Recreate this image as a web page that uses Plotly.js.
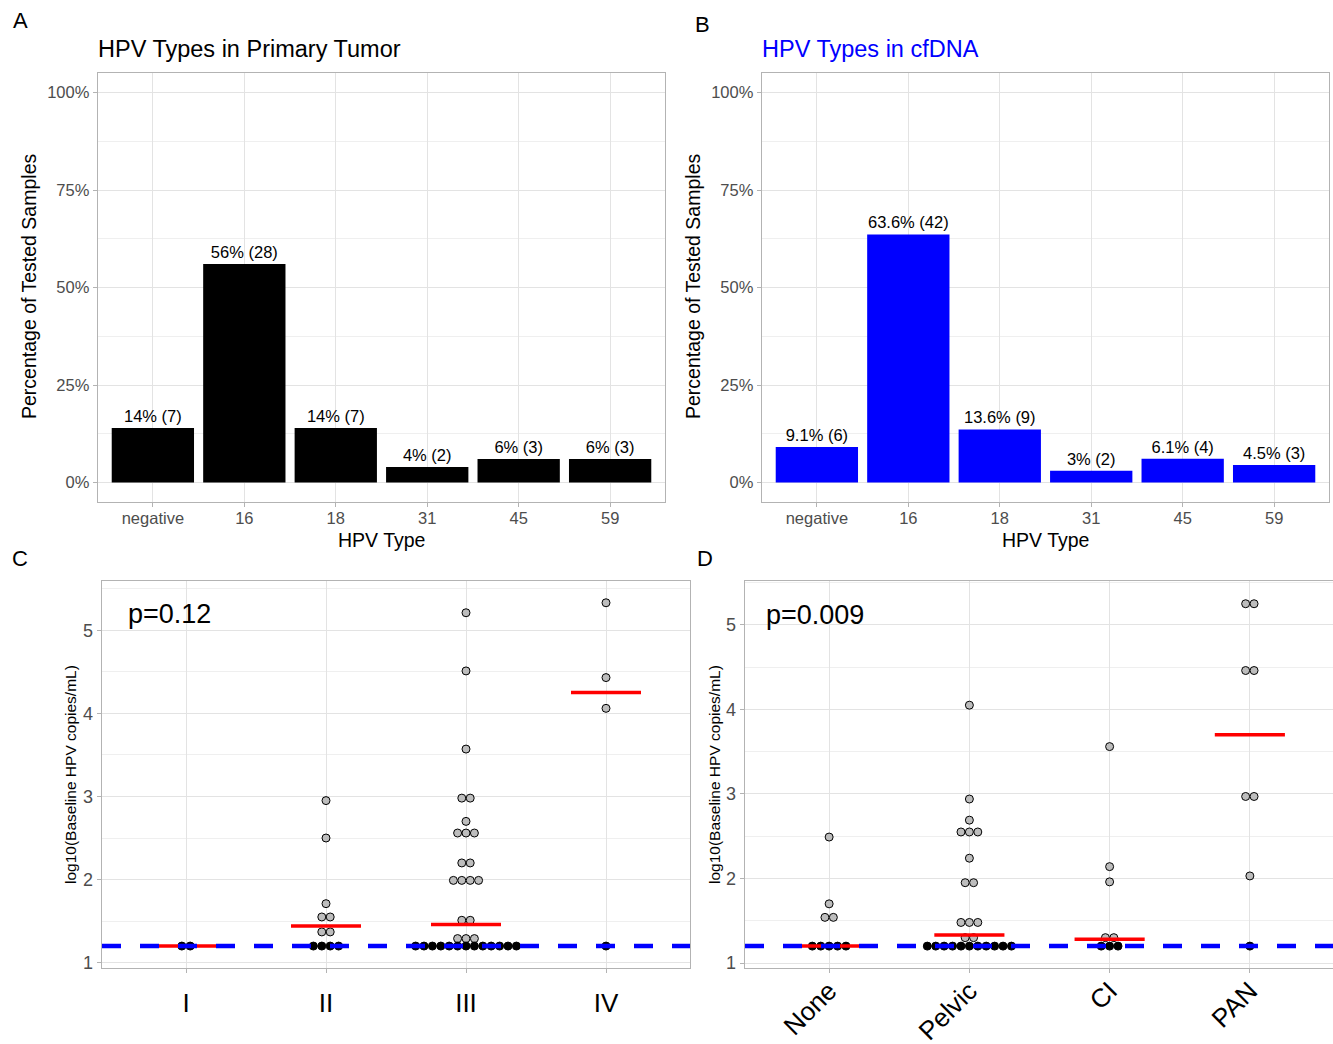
<!DOCTYPE html>
<html><head><meta charset="utf-8">
<script src="https://cdn.plot.ly/plotly-3.0.1.min.js"></script>
<style>html,body{margin:0;padding:0;overflow:hidden;background:#fff}</style>
</head><body><div id="chart" style="width:1340px;height:1044px"></div>
<script>
// ---------- data ----------
const hpvTypes = ['negative', '16', '18', '31', '45', '59'];
const tumorPct = [14, 56, 14, 4, 6, 6];
const tumorN = [7, 28, 7, 2, 3, 3];
const cfdnaPct = [9.1, 63.6, 13.6, 3, 6.1, 4.5];
const cfdnaN = [6, 42, 9, 2, 4, 3];

const lodValue = 1.2;

// log10 baseline HPV copies/mL, one value per patient, by FIGO 2018 stage
const stageCats = ['I', 'II', 'III', 'IV'];
const stageI = [1.2, 1.2];
const stageII = [2.95, 2.50, 1.71, 1.55, 1.55, 1.37, 1.37, 1.2, 1.2, 1.2, 1.2];
const stageIII = [5.21, 4.51, 3.57, 2.98, 2.98, 2.70, 2.56, 2.56, 2.56, 2.20, 2.20,
  1.99, 1.99, 1.99, 1.99, 1.51, 1.51, 1.29, 1.29, 1.29,
  1.2, 1.2, 1.2, 1.2, 1.2, 1.2, 1.2, 1.2, 1.2, 1.2, 1.2, 1.2, 1.2];
const stageIV = [5.33, 4.43, 4.06, 1.2];
const stageMedians = [1.2, 1.44, 1.46, 4.25];
const stagePText = 'p=0.12';

// by highest involved nodal level
const nodalCats = ['None', 'Pelvic', 'CI', 'PAN'];
const nodalNone = [2.49, 1.70, 1.54, 1.54, 1.2, 1.2, 1.2, 1.2, 1.2];
const nodalPelvic = [4.05, 2.94, 2.69, 2.55, 2.55, 2.55, 2.24, 1.95, 1.95, 1.48, 1.48, 1.48, 1.30, 1.30,
  1.2, 1.2, 1.2, 1.2, 1.2, 1.2, 1.2, 1.2, 1.2, 1.2, 1.2];
const nodalCI = [3.56, 2.14, 1.96, 1.30, 1.30, 1.2, 1.2, 1.2];
const nodalPAN = [5.25, 5.25, 4.46, 4.46, 2.97, 2.97, 2.03, 1.2];
const nodalMedians = [1.2, 1.33, 1.28, 3.70];
const nodalPText = 'p=0.009';

// ---------- helpers ----------
const W = 1340, H = 1044;
const fx = x => x / W;
const fy = y => 1 - y / H;
const FONT = 'Liberation Sans, Arial, Helvetica, sans-serif';
const GRID = '#e3e3e3', MINOR = '#efefef', BORDER = '#b3b3b3', TICKC = '#4d4d4d';

function dotTrace(groups, xa, ya) {
  // centred dot plot: identical values in a group sit side by side
  const xs = [], ys = [];
  groups.forEach((vals, gi) => {
    const counts = {};
    vals.forEach(v => { counts[v] = (counts[v] || 0) + 1; });
    const seen = {};
    vals.forEach(v => {
      const n = counts[v];
      const j = seen[v] = (seen[v] === undefined ? 0 : seen[v] + 1);
      xs.push(gi + (j - (n - 1) / 2) * 0.06);
      ys.push(v);
    });
  });
  return {
    type: 'scatter', mode: 'markers', xaxis: xa, yaxis: ya,
    x: xs, y: ys, cliponaxis: false,
    marker: {
      size: 8,
      color: ys.map(v => v <= lodValue ? '#000000' : '#bdbdbd'),
      line: { color: '#000000', width: 1 }
    },
    hoverinfo: 'y', showlegend: false
  };
}

function medianTrace(meds, xa, ya) {
  const x = [], y = [];
  meds.forEach((m, i) => { x.push(i - 0.25, i + 0.25, null); y.push(m, m, null); });
  return { type: 'scatter', mode: 'lines', xaxis: xa, yaxis: ya, x, y,
    line: { color: '#ff0000', width: 3.5 }, hoverinfo: 'skip', showlegend: false };
}

function barTrace(pct, n, color, xa, ya) {
  return {
    type: 'bar', x: hpvTypes, y: pct, xaxis: xa, yaxis: ya, width: 0.9,
    marker: { color: color, line: { width: 0 } },
    text: pct.map((p, i) => p + '% (' + n[i] + ')'),
    textposition: 'outside', constraintext: 'none', cliponaxis: false,
    textfont: { size: 16.5, color: '#000', family: FONT },
    showlegend: false, hoverinfo: 'x+y'
  };
}

const data = [
  barTrace(tumorPct, tumorN, '#000000', 'x', 'y'),
  barTrace(cfdnaPct, cfdnaN, '#0000ff', 'x2', 'y2'),
  dotTrace([stageI, stageII, stageIII, stageIV], 'x3', 'y3'),
  medianTrace(stageMedians, 'x3', 'y3'),
  dotTrace([nodalNone, nodalPelvic, nodalCI, nodalPAN], 'x4', 'y4'),
  medianTrace(nodalMedians, 'x4', 'y4')
];

const common = {
  showline: true, mirror: true, linecolor: BORDER, linewidth: 1.3,
  showgrid: true, gridcolor: GRID, gridwidth: 1, zeroline: false,
  ticks: 'outside', ticklen: 4, tickcolor: BORDER, tickwidth: 1,
  tickfont: { size: 16.5, color: TICKC, family: FONT }
};

const barY = Object.assign({}, common, {
  range: [-5, 105], tick0: 0, dtick: 25, ticksuffix: '%',
  minor: { tick0: 0, dtick: 12.5, showgrid: true, gridcolor: MINOR, gridwidth: 1, ticks: '' }
});
const barX = Object.assign({}, common, { type: 'category', range: [-0.6, 5.6], ticklabelstandoff: -3 });

const dotY = Object.assign({}, common, {
  tick0: 0, dtick: 1, tickfont: { size: 18, color: TICKC, family: FONT },
  minor: { tick0: 0, dtick: 0.5, showgrid: true, gridcolor: MINOR, gridwidth: 1, ticks: '' }
});

const layout = {
  width: W, height: H, margin: { l: 0, r: 0, t: 0, b: 0 },
  paper_bgcolor: '#fff', plot_bgcolor: '#fff',
  font: { family: FONT },
  xaxis: Object.assign({}, barX, { domain: [fx(98), fx(665)], anchor: 'y' }),
  yaxis: Object.assign({}, barY, { domain: [fy(502), fy(73)], anchor: 'x' }),
  xaxis2: Object.assign({}, barX, { domain: [fx(762), fx(1329)], anchor: 'y2' }),
  yaxis2: Object.assign({}, barY, { domain: [fy(502), fy(73)], anchor: 'x2' }),
  xaxis3: Object.assign({}, common, {
    domain: [fx(102), fx(690)], anchor: 'y3', range: [-0.6, 3.6],
    tickmode: 'array', tickvals: [0, 1, 2, 3], ticktext: stageCats,
    tickfont: { size: 26, color: '#000', family: FONT }, ticklabelstandoff: 7
  }),
  yaxis3: Object.assign({}, dotY, { domain: [fy(968), fy(581)], anchor: 'x3', range: [0.936, 5.592] }),
  xaxis4: Object.assign({}, common, {
    domain: [fx(745), fx(1334)], anchor: 'y4', range: [-0.6, 3.6],
    tickmode: 'array', tickvals: [0, 1, 2, 3], ticktext: nodalCats, tickangle: -45,
    tickfont: { size: 26, color: '#000', family: FONT }, ticklabelstandoff: -8
  }),
  yaxis4: Object.assign({}, dotY, { domain: [fy(968), fy(581)], anchor: 'x4', range: [0.941, 5.519] }),
  shapes: [
    { type: 'line', layer: 'above', xref: 'x3 domain', x0: 0, x1: 1, yref: 'y3', y0: lodValue, y1: lodValue,
      line: { color: '#0000ff', width: 4.5, dash: '19px,19px' } },
    { type: 'line', layer: 'above', xref: 'x4 domain', x0: 0, x1: 1, yref: 'y4', y0: lodValue, y1: lodValue,
      line: { color: '#0000ff', width: 4.5, dash: '19px,19px' } }
  ],
  annotations: []
};

function ann(text, x, y, opts) {
  layout.annotations.push(Object.assign({
    text, xref: 'paper', yref: 'paper', x: fx(x), y: fy(y), showarrow: false,
    xanchor: 'center', yanchor: 'middle', font: { size: 16, color: '#000', family: FONT }
  }, opts || {}));
}
// panel letters
ann('A', 20, 20, { font: { size: 22, color: '#000', family: FONT } });
ann('B', 702, 25, { font: { size: 22, color: '#000', family: FONT } });
ann('C', 20, 558, { font: { size: 22, color: '#000', family: FONT } });
ann('D', 705, 558, { font: { size: 22, color: '#000', family: FONT } });
// titles
ann('HPV Types in Primary Tumor', 96, 49, { xanchor: 'left', font: { size: 23.5, color: '#000', family: FONT } });
ann('HPV Types in cfDNA', 760, 49, { xanchor: 'left', font: { size: 23.5, color: '#0000ff', family: FONT } });
// axis titles
ann('HPV Type', 381, 540, { font: { size: 19.5, color: '#000', family: FONT } });
ann('HPV Type', 1045, 540, { font: { size: 19.5, color: '#000', family: FONT } });
ann('Percentage of Tested Samples', 29, 287, { textangle: -90, font: { size: 19.5, color: '#000', family: FONT } });
ann('Percentage of Tested Samples', 693, 287, { textangle: -90, font: { size: 19.5, color: '#000', family: FONT } });
ann('log10(Baseline HPV copies/mL)', 70, 775, { textangle: -90, font: { size: 15.5, color: '#000', family: FONT } });
ann('log10(Baseline HPV copies/mL)', 714, 775, { textangle: -90, font: { size: 15.5, color: '#000', family: FONT } });
// p values
ann(stagePText, 126, 614, { xanchor: 'left', font: { size: 27, color: '#000', family: FONT } });
ann(nodalPText, 764, 615, { xanchor: 'left', font: { size: 27, color: '#000', family: FONT } });

Plotly.newPlot('chart', data, layout, { displayModeBar: false, staticPlot: true });
</script>
</body></html>
